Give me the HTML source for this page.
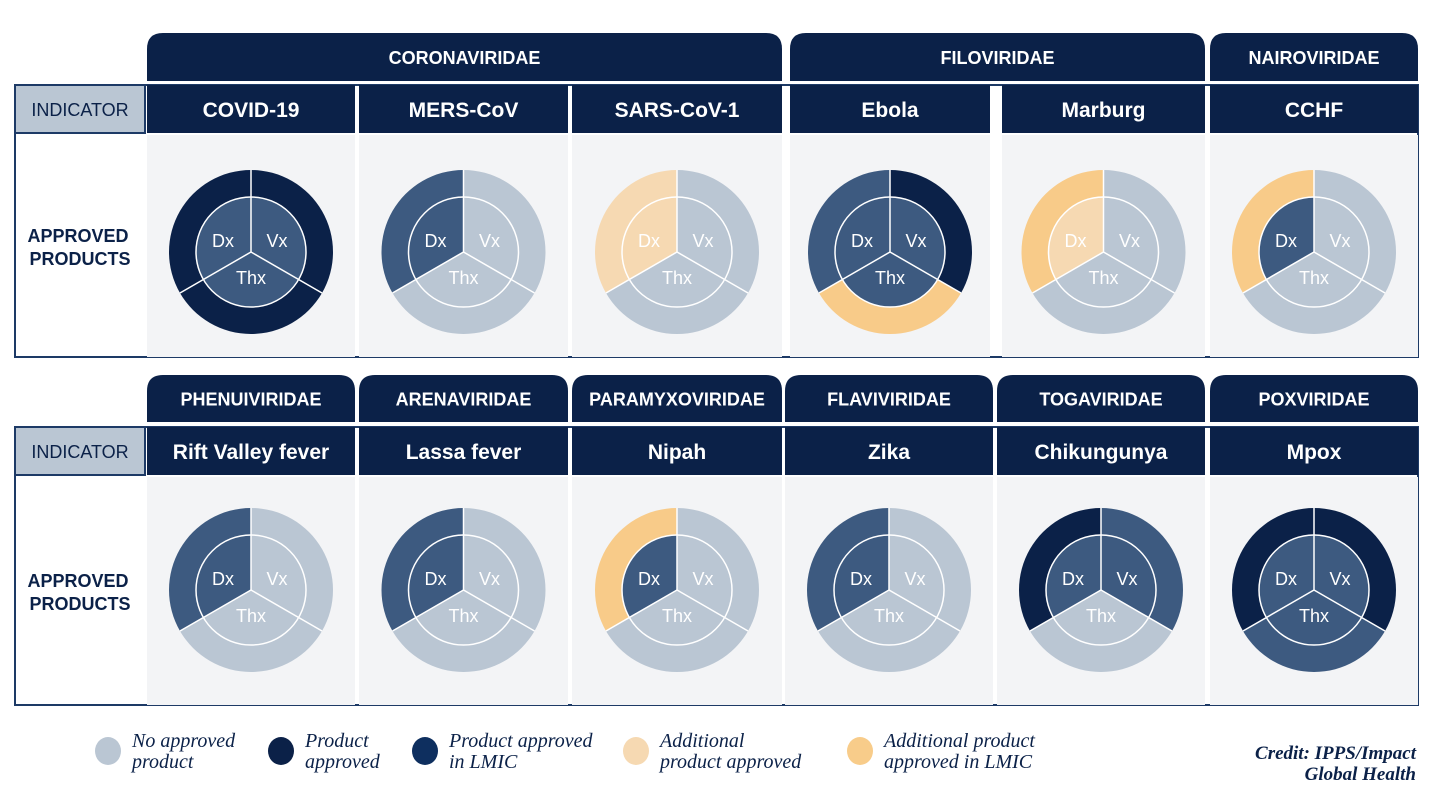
<!DOCTYPE html>
<html><head><meta charset="utf-8">
<style>
body{margin:0;width:1440px;height:810px;background:#fff;overflow:hidden;font-family:"Liberation Sans",sans-serif;}
svg{display:block}
</style></head>
<body>
<svg id="chart" width="1440" height="810" xmlns="http://www.w3.org/2000/svg"></svg>
<script>
// Data
const families1 = ["CORONAVIRIDAE","FILOVIRIDAE","NAIROVIRIDAE"];
const familySpan1 = [[0,2],[3,4],[5,5]];
const diseases1 = ["COVID-19","MERS-CoV","SARS-CoV-1","Ebola","Marburg","CCHF"];
const families2 = ["PHENUIVIRIDAE","ARENAVIRIDAE","PARAMYXOVIRIDAE","FLAVIVIRIDAE","TOGAVIRIDAE","POXVIRIDAE"];
const familySpan2 = [[0,0],[1,1],[2,2],[3,3],[4,4],[5,5]];
const diseases2 = ["Rift Valley fever","Lassa fever","Nipah","Zika","Chikungunya","Mpox"];
// status codes: L none, D approved, M approved(inner), P additional, O additional LMIC
// order per disease: [Vx outer, Thx outer, Dx outer, Vx inner, Thx inner, Dx inner]
const status1 = [
 ["D","D","D","M","M","M"],
 ["L","L","M","L","L","M"],
 ["L","L","P","L","L","P"],
 ["D","O","M","M","M","M"],
 ["L","L","O","L","L","P"],
 ["L","L","O","L","L","M"]
];
const status2 = [
 ["L","L","M","L","L","M"],
 ["L","L","M","L","L","M"],
 ["L","L","O","L","L","M"],
 ["L","L","M","L","L","M"],
 ["M","L","D","M","L","M"],
 ["D","M","D","M","M","M"]
];
const segLabels = ["Vx","Thx","Dx"];
const legendLabels = [["No approved","product"],["Product","approved"],["Product approved","in LMIC"],["Additional","product approved"],["Additional product","approved in LMIC"]];
const legendColors = ["#bac6d3","#0b2148","#0e2f5f","#f6d9b2","#f8cc8a"];
const colorMap = {L:"#bac6d3",D:"#0b2148",M:"#3d5a80",P:"#f6d9b2",O:"#f8cb89"};

const NS="http://www.w3.org/2000/svg";
const svg=document.getElementById('chart');
function el(tag,attrs,parent){const e=document.createElementNS(NS,tag);for(const k in attrs)e.setAttribute(k,attrs[k]);(parent||svg).appendChild(e);return e;}
function txt(str,attrs,parent){const e=el('text',attrs,parent);e.textContent=str;return e;}
const NAVY="#0b2148";

function roundTop(x,y,w,h,r){return `M${x},${y+h}V${y+r}Q${x},${y} ${x+r},${y}H${x+w-r}Q${x+w},${y} ${x+w},${y+r}V${y+h}Z`;}
function pt(cx,cy,r,deg){const a=(deg-90)*Math.PI/180;return [cx+r*Math.cos(a),cy+r*Math.sin(a)];}
function sector(cx,cy,r0,r1,a0,a1){
  const p1=pt(cx,cy,r1,a0),p2=pt(cx,cy,r1,a1);
  if(r0===0) return `M${cx},${cy}L${p1[0]},${p1[1]}A${r1},${r1} 0 0 1 ${p2[0]},${p2[1]}Z`;
  const q1=pt(cx,cy,r0,a1),q2=pt(cx,cy,r0,a0);
  return `M${p1[0]},${p1[1]}A${r1},${r1} 0 0 1 ${p2[0]},${p2[1]}L${q1[0]},${q1[1]}A${r0},${r0} 0 0 0 ${q2[0]},${q2[1]}Z`;
}

function drawBlock(cfg){
  const {cols,famY,famH,disY,disH,bodyY,bodyH,families,spans,diseases,status,cy,idx}=cfg;
  const g=el('g',{});
  
  // outer border
  const border=el('rect',{x:15,y:disY,width:1403,height:bodyY+bodyH-disY,fill:"none",stroke:"#1d3a66","stroke-width":2},g);
  
  // indicator
  const ind=el('rect',{x:15,y:disY,width:130,height:disH,fill:"#bac6d3",stroke:"#1d3a66","stroke-width":2},g);
  
  const it=txt("INDICATOR",{x:80,y:disY+disH/2+7,"text-anchor":"middle","font-size":18,fill:NAVY},g);
  
  const ap=txt("",{x:80,y:bodyY+bodyH/2-4,"text-anchor":"middle","font-size":18,"font-weight":"bold",fill:NAVY},g);
  
  const t1=el('tspan',{x:78,dy:0},ap);t1.textContent="APPROVED";
  const t2=el('tspan',{x:80,dy:23},ap);t2.textContent="PRODUCTS";
  families.forEach((f,i)=>{
    const x0=cols[spans[i][0]][0],x1=cols[spans[i][1]][1];
    const p=el('path',{d:roundTop(x0,famY,x1-x0,famH,16),fill:NAVY},g);
    
    const t=txt(f,{x:(x0+x1)/2,y:famY+famH/2+7,"text-anchor":"middle","font-size":18,"font-weight":"bold",fill:"#fff"},g);
    
  });
  diseases.forEach((d,i)=>{
    const [x0,x1]=cols[i];
    const r=el('rect',{x:x0,y:disY,width:x1-x0,height:disH,fill:NAVY},g);
    
    const t=txt(d,{x:(x0+x1)/2,y:disY+disH/2+8,"text-anchor":"middle","font-size":21,"font-weight":"bold",fill:"#fff"},g);
    
    const b=el('rect',{x:x0,y:bodyY,width:x1-x0,height:bodyH,fill:"#f3f4f6"},g);
    
    const cx=(x0+x1)/2;
    const dg=el('g',{},g);
    
    const s=status[i];
    for(let k=0;k<3;k++){
      const a0=k*120,a1=(k+1)*120;
      const o=el('path',{d:sector(cx,cy,55,82,a0,a1),fill:colorMap[s[k]]},dg);
      
      const n=el('path',{d:sector(cx,cy,0,55,a0,a1),fill:colorMap[s[k+3]]},dg);
      
    }
    el('circle',{cx:cx,cy:cy,r:55,fill:"none",stroke:"#fff","stroke-width":1.5},dg);
    for(let k=0;k<3;k++){const p=pt(cx,cy,82,k*120);el('line',{x1:cx,y1:cy,x2:p[0],y2:p[1],stroke:"#fff","stroke-width":1.5},dg);}
    const lp=[[cx+26,cy-5],[cx,cy+32],[cx-28,cy-5]];
    for(let k=0;k<3;k++){
      const t=txt(segLabels[k],{x:lp[k][0],y:lp[k][1],"text-anchor":"middle","font-size":18,fill:"#fff"},dg);
      
    }
  });
}
const cols1=[[147,355],[359,568],[572,782],[790,990],[1002,1205],[1210,1418]];
const cols2=[[147,355],[359,568],[572,782],[785,993],[997,1205],[1210,1418]];
drawBlock({cols:cols1,famY:33,famH:48,disY:85,disH:48,bodyY:135,bodyH:222,families:families1,spans:familySpan1,diseases:diseases1,status:status1,cy:252,idx:1});
drawBlock({cols:cols2,famY:375,famH:47,disY:427,disH:48,bodyY:477,bodyH:228,families:families2,spans:familySpan2,diseases:diseases2,status:status2,cy:590,idx:2});
// legend
const lx=[108,281,425,636,860];
legendLabels.forEach((l,i)=>{
  const g=el('g',{});
  
  el('ellipse',{cx:lx[i],cy:751,rx:13,ry:14,fill:legendColors[i]},g);
  const t=txt("",{x:lx[i]+24,y:747,"font-family":"Liberation Serif, serif","font-style":"italic","font-size":20,fill:NAVY},g);
  const a=el('tspan',{x:lx[i]+24,dy:0},t);a.textContent=l[0];
  const b=el('tspan',{x:lx[i]+24,dy:21},t);b.textContent=l[1];
});
const cr=txt("",{x:1416,y:759,"text-anchor":"end","font-family":"Liberation Serif, serif","font-style":"italic","font-weight":"bold","font-size":19,fill:NAVY});

const c1=el('tspan',{x:1416,dy:0},cr);c1.textContent="Credit: IPPS/Impact";
const c2=el('tspan',{x:1416,dy:21},cr);c2.textContent="Global Health";
</script>
</body></html>
